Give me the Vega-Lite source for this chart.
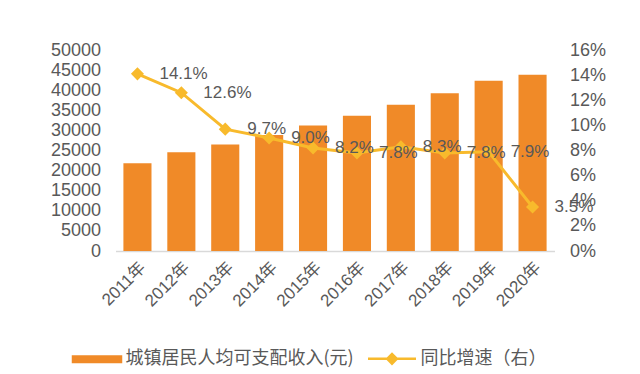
{
  "$schema": "https://vega.github.io/schema/vega-lite/v6.json",
  "width": 439,
  "height": 201,
  "autosize": {"type": "none"},
  "padding": {"left": 115.5, "top": 50, "right": 85.5, "bottom": 123},
  "background": "white",
  "config": {
    "view": {"stroke": null},
    "font": "Liberation Sans, Noto Sans CJK SC, sans-serif",
    "axis": {"labelColor": "#595959", "grid": false, "ticks": false, "domain": false, "labelOverlap": false},
    "legend": {
      "orient": "none", "legendX": -44, "legendY": 283, "direction": "horizontal",
      "labelFont": "Noto Sans CJK SC", "labelFontSize": 18, "labelColor": "#595959",
      "symbolSize": 2304, "labelOffset": 3, "columnPadding": 8,
      "symbolStrokeWidth": 2.5, "symbolOpacity": 1,
      "labelLimit": 400
    }
  },
  "data": {
    "values": [
      {"year": "2011年", "income": 21810, "growth": 0.141},
      {"year": "2012年", "income": 24565, "growth": 0.126},
      {"year": "2013年", "income": 26467, "growth": 0.097},
      {"year": "2014年", "income": 28844, "growth": 0.090},
      {"year": "2015年", "income": 31195, "growth": 0.082},
      {"year": "2016年", "income": 33616, "growth": 0.078},
      {"year": "2017年", "income": 36396, "growth": 0.083},
      {"year": "2018年", "income": 39251, "growth": 0.078},
      {"year": "2019年", "income": 42359, "growth": 0.079},
      {"year": "2020年", "income": 43834, "growth": 0.035}
    ]
  },
  "encoding": {
    "x": {
      "field": "year", "type": "nominal", "sort": null,
      "scale": {"paddingInner": 0.36, "paddingOuter": 0.18},
      "axis": {"title": null, "labelAngle": -45, "labelFontSize": 17, "labelPadding": 8, "domain": true, "domainColor": "#D9D9D9", "domainWidth": 1.5}
    }
  },
  "layer": [
    {
      "mark": {"type": "bar", "color": "#F08A28"},
      "encoding": {
        "y": {
          "field": "income", "type": "quantitative",
          "scale": {"domain": [0, 50000], "nice": false},
          "axis": {"title": null, "values": [0,5000,10000,15000,20000,25000,30000,35000,40000,45000,50000], "format": "d", "labelFontSize": 18, "labelPadding": 15, "labelOverlap": false}
        },
        "color": {
          "datum": "城镇居民人均可支配收入(元)",
          "scale": {"domain": ["城镇居民人均可支配收入(元)", "同比增速（右）"], "range": ["#F08A28", "#F8BA2C"]},
          "legend": {
            "title": null,
            "encode": {
              "symbols": {
                "update": {
                  "shape": [{"test": "datum.value === '同比增速（右）'", "value": "M-1,0H1M-0.2,0L0,-0.2L0.2,0L0,0.2Z"}, {"value": "M-1,-0.11H1V0.11H-1Z"}],
                  "fill": [{"test": "datum.value === '同比增速（右）'", "value": "#F8BA2C"}, {"value": "#F08A28"}],
                  "stroke": [{"test": "datum.value === '同比增速（右）'", "value": "#F8BA2C"}, {"value": "transparent"}],
                  "strokeWidth": {"value": 2.5},
                  "opacity": {"value": 1}
                }
              }
            }
          }
        }
      }
    },
    {
      "encoding": {
        "y": {
          "field": "growth", "type": "quantitative",
          "scale": {"domain": [0, 0.16], "nice": false},
          "axis": {"title": null, "orient": "right", "values": [0,0.02,0.04,0.06,0.08,0.1,0.12,0.14,0.16], "format": ".0%", "labelFontSize": 18, "labelPadding": 15, "labelOverlap": false}
        }
      },
      "layer": [
        {
          "mark": {"type": "line", "strokeWidth": 3, "point": {"shape": "diamond", "size": 170, "filled": true, "color": "#F8BA2C", "opacity": 1}},
          "encoding": {
            "color": {"datum": "同比增速（右）"}
          }
        },
        {
          "mark": {"type": "text", "align": "left", "baseline": "middle", "dx": 22, "fontSize": 17, "color": "#595959"},
          "encoding": {
            "text": {"field": "growth", "type": "quantitative", "format": ".1%"}
          }
        }
      ]
    }
  ],
  "resolve": {"scale": {"y": "independent"}}
}
